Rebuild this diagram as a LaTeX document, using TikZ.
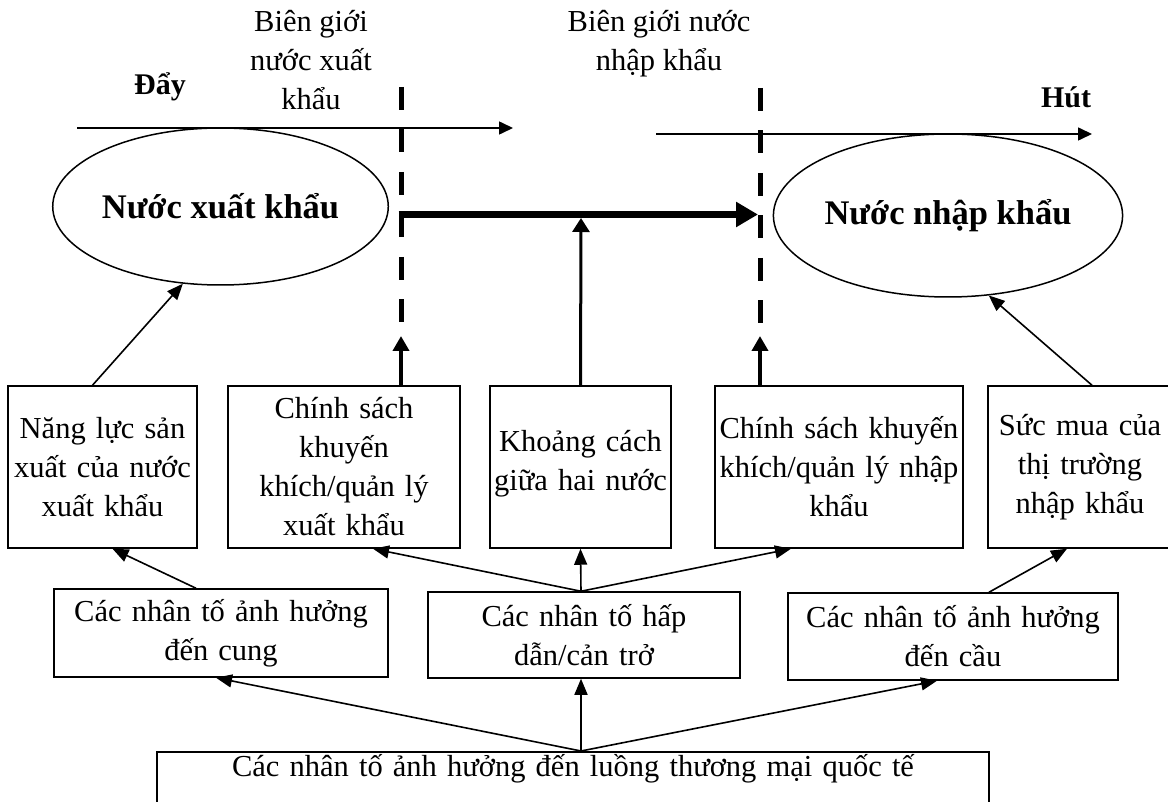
\documentclass[tikz,border=0pt]{standalone}
\usepackage{fontspec}
\setmainfont{Liberation Serif}
\usetikzlibrary{arrows.meta,shapes.geometric}
\tikzstyle{mybox} = [draw=black, line width=1.5pt, rectangle, align=center,
    inner sep=0pt, font=\fontsize{30.5}{39}\selectfont]
\tikzstyle{myellipse} = [draw=black, line width=1.5pt, ellipse, inner sep=0pt,
    font=\fontsize{34.5}{39}\selectfont\bfseries]
\tikzstyle{mylabel} = [align=center, inner sep=0pt, font=\fontsize{30.5}{39}\selectfont]
\tikzstyle{thinarrow} = [line width=1.6pt, -{Triangle[length=16pt,width=13pt]}]
\tikzstyle{midarrow} = [line width=4pt, -{Triangle[length=15pt,width=16pt]}]
\tikzstyle{thickarrow} = [line width=7pt, -{Triangle[length=22pt,width=24pt]}]
\tikzstyle{border} = [line width=5pt, dash pattern=on 23pt off 19.5pt]

\begin{document}
\begin{tikzpicture}[x=1pt,y=-1pt]
    \useasboundingbox (0,0) rectangle (1168,802);
    \clip (0,0) rectangle (1168,802);

    % borders and push / pull
    \coordinate (exbtop) at (401,87);
    \coordinate (exbbot) at (401,323);
    \coordinate (imbtop) at (760,88);
    \coordinate (imbbot) at (760,323);
    \draw[border] (exbtop) -- (exbbot);
    \draw[border] (imbtop) -- (imbbot);

    \node[mylabel] (exblabel) at (311,60) {Biên giới\\nước xuất\\khẩu};
    \node[mylabel] (imblabel) at (659,44) {Biên giới nước\\nhập khẩu};
    \node[mylabel, font=\fontsize{30}{39}\selectfont\bfseries] (push) at (160,87) {Đẩy};
    \node[mylabel, font=\fontsize{30}{39}\selectfont\bfseries] (pull) at (1066,97) {Hút};

    \coordinate (pushstart) at (77,128);
    \coordinate (pushend) at (513,128);
    \coordinate (pullstart) at (656,134);
    \coordinate (pullend) at (1092,134);
    \draw[line width=1.6pt, -{Triangle[length=14pt,width=13pt]}] (pushstart) -- (pushend);
    \draw[line width=1.6pt, -{Triangle[length=14pt,width=13pt]}] (pullstart) -- (pullend);

    % countries
    \node[myellipse, minimum width=331pt, minimum height=157pt] (exporter) at (220.5,206.5) {Nước xuất khẩu};
    \node[myellipse, minimum width=344pt, minimum height=163pt] (importer) at (948,215.5) {Nước nhập khẩu};

    \coordinate (flowstart) at (398.5,214.5);
    \coordinate (flowend) at (758,214.5);
    \draw[thickarrow] (flowstart) -- (flowend);

    % first row
    \node[mybox, minimum width=189pt, minimum height=162pt, text width=185pt] (box1) at (102.5,467)
        {Năng lực sản\\xuất của nước\\xuất khẩu};
    \node[mybox, minimum width=232pt, minimum height=162pt, text width=228pt] (box2) at (344,467)
        {Chính sách\\khuyến\\khích/quản lý\\xuất khẩu};
    \node[mybox, minimum width=181pt, minimum height=162pt, text width=178pt,
        text height=27pt, text depth=58pt] (box3) at (580.5,467)
        {Khoảng cách\\giữa hai nước};
    \node[mybox, minimum width=248pt, minimum height=162pt, text width=246pt] (box4) at (839,467)
        {Chính sách khuyến\\khích/quản lý nhập\\khẩu};
    \node[mybox, minimum width=184pt, minimum height=162pt, text width=180pt] (box5) at (1080,467)
        {Sức mua của\\thị trường\\nhập khẩu};

    \coordinate (distend) at (581,218);
    \coordinate (extip) at (401,336);
    \coordinate (imtip) at (760,336);
    \draw[thinarrow] ([xshift=-10pt]box1.north) -- (exporter.244);
    \draw[midarrow] (box2.north -| exbbot) -- (extip);
    \draw[line width=3pt, -{Triangle[length=14pt,width=17pt]}] (box3.north) -- (distend);
    \draw[midarrow] (box4.north -| imbbot) -- (imtip);
    \draw[thinarrow] ([xshift=12pt]box5.north) -- (importer.297);

    % second row
    \node[mybox, minimum width=334pt, minimum height=88pt, text width=330pt] (supply) at (221,633)
        {Các nhân tố ảnh hưởng\\đến cung};
    \node[mybox, minimum width=312pt, minimum height=86pt, text width=308pt] (gravity) at (584,635)
        {Các nhân tố hấp\\dẫn/cản trở};
    \node[mybox, minimum width=330pt, minimum height=87pt, text width=326pt] (demand) at (953,636.5)
        {Các nhân tố ảnh hưởng\\đến cầu};

    \draw[thinarrow] ([xshift=-25pt]supply.north) -- ([xshift=10pt]box1.south);
    \draw[thinarrow] ([xshift=-3pt]gravity.north) -- ([xshift=29pt]box2.south);
    \draw[thinarrow] ([xshift=-3pt]gravity.north) -- (box3.south);
    \draw[thinarrow] ([xshift=-3pt]gravity.north) -- ([xshift=-48pt]box4.south);
    \draw[thinarrow] ([xshift=36pt]demand.north) -- ([xshift=-13pt]box5.south);

    % bottom
    \node[mybox, anchor=north, minimum width=832pt, minimum height=100pt, text width=828pt,
        text height=25pt, text depth=75pt] (flows) at (573,751)
        {Các nhân tố ảnh hưởng đến luồng thương mại quốc tế};

    \draw[thinarrow] ([xshift=8pt]flows.north) -- ([xshift=-5pt]supply.south);
    \draw[thinarrow] ([xshift=8pt]flows.north) -- ([xshift=-3pt]gravity.south);
    \draw[thinarrow] ([xshift=8pt]flows.north) -- ([xshift=-16pt]demand.south);
\end{tikzpicture}
\end{document}
